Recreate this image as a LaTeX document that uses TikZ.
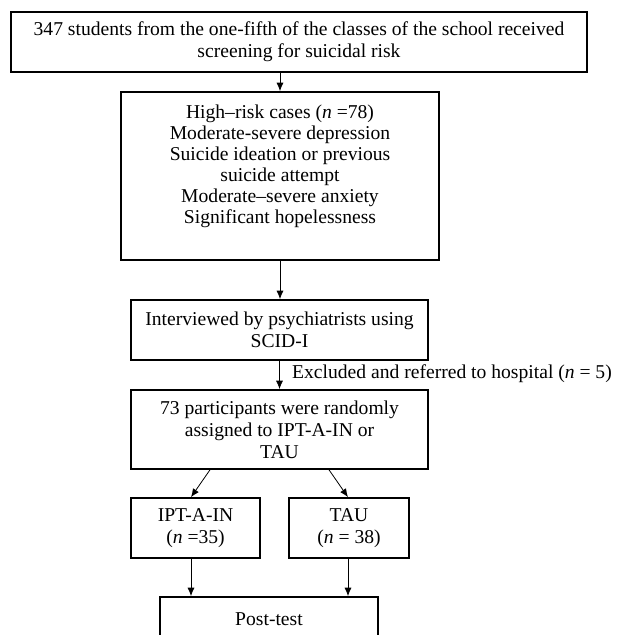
\documentclass[tikz,border=0pt]{standalone}
\usepackage{fontspec}
\setmainfont{Liberation Serif}
\usetikzlibrary{arrows.meta,calc}
\tikzset{
  box/.style={draw=black, line width=1.6pt, rectangle, inner sep=0pt, align=center,
    font=\fontsize{19.6}{22}\selectfont},
  txt/.style={inner sep=0pt, align=center, font=\fontsize{19.6}{21}\selectfont},
  arr/.style={line width=0.8pt, -{Latex[length=8.5pt,width=7pt]}}
}
\begin{document}
\begin{tikzpicture}[x=1pt,y=-1pt]
\path[use as bounding box] (0,0) rectangle (618,635);
\clip (0,0) rectangle (618,635);
\fill[white] (0,0) rectangle (618,635);
\node[box, minimum width=576, minimum height=60] (b1) at (299,42)
  {347 students from the one-fifth of the classes of the school received\\screening for suicidal risk};
\node[box, minimum width=318, minimum height=168] (b2) at (280,176) {};
\node[txt, anchor=north] (b2t) at (280,105)
  {High--risk cases (\textit{n} =78)\\Moderate-severe depression\\Suicide ideation or previous\\suicide attempt\\Moderate--severe anxiety\\Significant hopelessness};
\node[box, minimum width=297, minimum height=60] (b3) at (279.5,330)
  {Interviewed by psychiatrists using\\SCID-I};
\node[box, minimum width=297, minimum height=79] (b4) at (279.5,429.5)
  {73 participants were randomly\\assigned to IPT-A-IN or\\TAU};
\node[box, minimum width=129, minimum height=60] (ipt) at (195.5,528)
  {IPT-A-IN\\(\textit{n} =35)};
\node[box, minimum width=120, minimum height=60] (tau) at (349,528)
  {TAU\\(\textit{n} = 38)};
\node[box, minimum width=218, minimum height=44] (post) at (269,619)
  {Post-test};
\draw[arr] (b1.south -| b2.north) -- (b2.north);
\draw[arr] (b2.south) -- (b2.south |- b3.north);
\draw[arr] (b3.south) -- (b4.north);
\node[txt, anchor=west] (excl) at (292,374)
  {Excluded and referred to hospital (\textit{n} = 5)};
\draw[arr] ([xshift=-69.5pt]b4.south) -- ([xshift=-4.5pt]ipt.north);
\draw[arr] ([xshift=49.5pt]b4.south) -- ([xshift=-1pt]tau.north);
\draw[arr] ([xshift=-4.5pt]ipt.south) -- ([xshift=-4.5pt]ipt.south |- post.north);
\draw[arr] ([xshift=-1pt]tau.south) -- ([xshift=-1pt]tau.south |- post.north);
\end{tikzpicture}
\end{document}
